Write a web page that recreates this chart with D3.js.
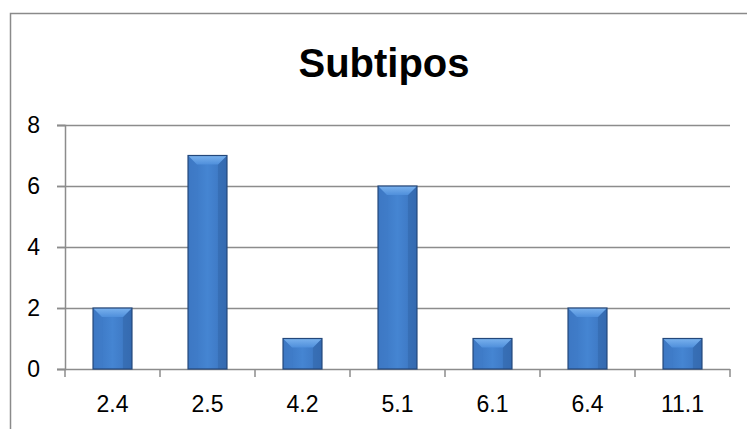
<!DOCTYPE html>
<html><head><meta charset="utf-8">
<script src="https://cdn.jsdelivr.net/npm/d3@7"></script>
<style>html,body{margin:0;padding:0;background:#fff;}svg{display:block;}</style>
</head><body>
<svg id="c" width="747" height="429"></svg>
<script>
const categories = ["2.4","2.5","4.2","5.1","6.1","6.4","11.1"];
const values = [2,7,1,6,1,2,1];
const yTicks = [0,2,4,6,8];
const title = "Subtipos";

const svg = d3.select("#c");
const font = "Liberation Sans, Arial, sans-serif";
const plotL = 65, plotR = 730, plotT = 125, plotB = 369;

const defs = svg.append("defs");
const g1 = defs.append("linearGradient").attr("id","barg").attr("x1","0").attr("x2","1").attr("y1","0").attr("y2","0");
g1.append("stop").attr("offset","0").attr("stop-color","#3a74c0");
g1.append("stop").attr("offset","0.5").attr("stop-color","#4585d2");
g1.append("stop").attr("offset","1").attr("stop-color","#3a72bd");
const g2 = defs.append("linearGradient").attr("id","topg").attr("x1","0").attr("x2","0").attr("y1","0").attr("y2","1");
g2.append("stop").attr("offset","0").attr("stop-color","#7ab2ee");
g2.append("stop").attr("offset","1").attr("stop-color","#4f8fdb");

svg.append("rect").attr("x",10.5).attr("y",13.5).attr("width",800).attr("height",500)
  .attr("fill","none").attr("stroke","#8a8a8a").attr("stroke-width",1.5);

svg.append("text").attr("x",384).attr("y",77).attr("text-anchor","middle")
  .attr("font-family",font).attr("font-weight","bold").attr("font-size",40).attr("fill","#000").text(title);

const x = d3.scaleBand().domain(categories).range([plotL,plotR]).paddingInner(0).paddingOuter(0);
const y = d3.scaleLinear().domain([0,8]).range([plotB,plotT]);

// gridlines
svg.append("g").selectAll("line").data(yTicks.filter(t=>t>0)).join("line")
  .attr("x1",plotL-8).attr("x2",plotR).attr("y1",d=>y(d)+0.5).attr("y2",d=>y(d)+0.5)
  .attr("stroke","#8c8c8c").attr("stroke-width",1.5);

// y axis
const ya = svg.append("g").attr("transform",`translate(${plotL},0)`)
  .call(d3.axisLeft(y).tickValues(yTicks).tickSize(8).tickPadding(17));
ya.select(".domain").attr("stroke","#8c8c8c").attr("stroke-width",1.5);
ya.selectAll(".tick line").attr("stroke","#8c8c8c").attr("stroke-width",1.5);
ya.selectAll(".tick text").attr("font-family",font).attr("font-size",23).attr("fill","#000");

// x axis with ticks at band boundaries
const xa = svg.append("g").attr("transform",`translate(0,${plotB})`);
xa.append("line").attr("x1",plotL-8).attr("x2",plotR).attr("y1",0.5).attr("y2",0.5).attr("stroke","#8c8c8c").attr("stroke-width",1.5);
const bounds = categories.map(c=>x(c)).concat([x(categories[categories.length-1])+x.bandwidth()]);
xa.selectAll("line.t").data(bounds).join("line").attr("class","t")
  .attr("x1",d=>d).attr("x2",d=>d).attr("y1",0).attr("y2",8).attr("stroke","#8c8c8c").attr("stroke-width",1.5);
xa.selectAll("text").data(categories).join("text")
  .attr("x",d=>x(d)+x.bandwidth()/2).attr("y",43).attr("text-anchor","middle")
  .attr("font-family",font).attr("font-size",23).attr("fill","#000").text(d=>d);

// bars
const bw = x.bandwidth()*0.41;
const bev = 9;
const bars = svg.append("g").selectAll("g").data(categories.map((c,i)=>({c,v:values[i]}))).join("g");
bars.each(function(d){
  const g = d3.select(this);
  const cx = x(d.c)+x.bandwidth()/2;
  const x0 = cx-bw/2, x1 = cx+bw/2, yt = y(d.v), yb = y(0);
  g.append("rect").attr("x",x0).attr("y",yt).attr("width",bw).attr("height",yb-yt).attr("fill","url(#barg)");
  g.append("polygon").attr("points",[[x0,yt],[x0+bev,yt+bev],[x0+bev,yb],[x0,yb]].join(" ")).attr("fill","#3f7cc8").attr("opacity",0.5);
  g.append("polygon").attr("points",[[x1,yt],[x1-bev,yt+bev],[x1-bev,yb],[x1,yb]].join(" ")).attr("fill","#2d5e9e").attr("opacity",0.4);
  g.append("polygon").attr("points",[[x0,yt],[x1,yt],[x1-bev,yt+bev],[x0+bev,yt+bev]].join(" ")).attr("fill","url(#topg)");
  g.append("rect").attr("x",x0).attr("y",yt).attr("width",bw).attr("height",yb-yt).attr("fill","none").attr("stroke","#23477a").attr("stroke-width",1.2);
});
</script>
</body></html>
